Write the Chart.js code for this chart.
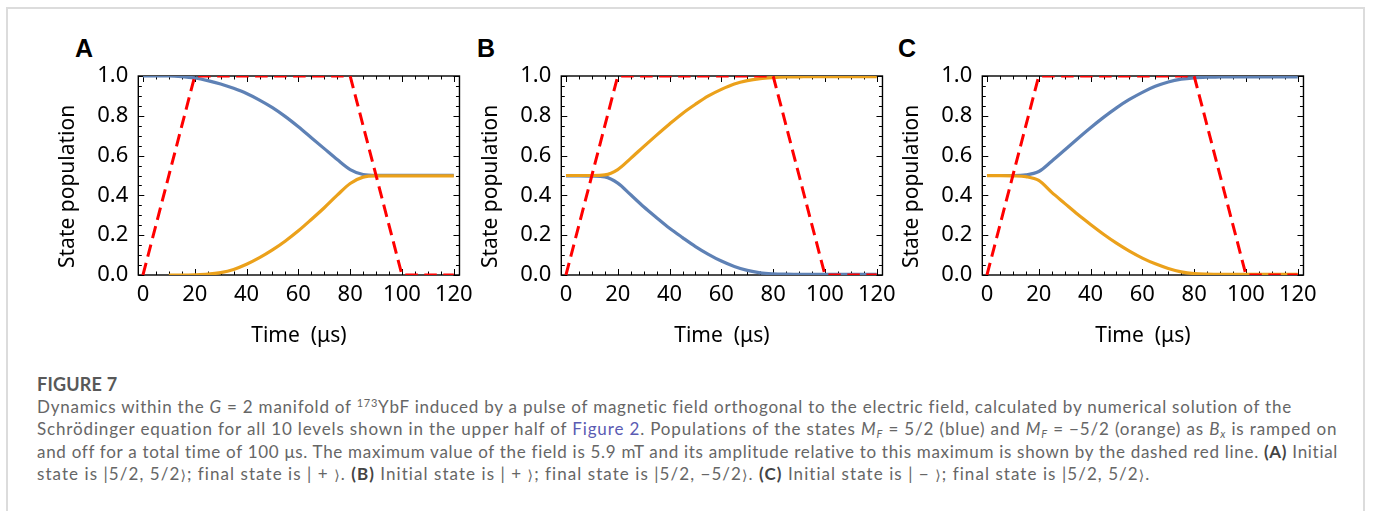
<!DOCTYPE html>
<html>
<head>
<meta charset="utf-8">
<script src="https://cdn.jsdelivr.net/npm/chart.js@4.4.1/dist/chart.umd.min.js"></script>
<style>
  html, body { margin: 0; padding: 0; background: #fff; }
  body { width: 1373px; height: 511px; position: relative; overflow: hidden; }
  #box { position: absolute; left: 6px; top: 7px; width: 1359px; height: 520px; border: 2px solid #dcdcdc; box-sizing: border-box; }
  .plabel { position: absolute; top: 36px; font: bold 25px "Liberation Sans", Arial, sans-serif; line-height: 25px; color: #000; }
  .panel { position: absolute; top: 0; width: 440px; height: 360px; }
  #caption { position: absolute; left: 37px; top: 373px; font-family: Lato, "Open Sans", sans-serif; font-size: 17px; color: #666; line-height: 22.5px; }
  #caption .head { font-weight: bold; color: #585858; font-size: 18px; letter-spacing: 0.2px; }
  #caption .ln { white-space: nowrap; display: inline-block; }
  #caption b { color: #444; }
  #caption sup, #caption sub { font-size: 11px; line-height: 0; }
  #caption sup { vertical-align: 6px; }
  #caption sub { vertical-align: -3px; }
  .lnk { color: #5b5bb3; }
  .ket { font-family: "DejaVu Sans", sans-serif; font-size: 14px; }
</style>
</head>
<body>
<div id="box"></div>
<div class="plabel" style="left:75px">A</div>
<div class="plabel" style="left:477px">B</div>
<div class="plabel" style="left:898px">C</div>
<div class="panel" style="left:40px"><canvas id="chartA" width="440" height="360"></canvas></div>
<div class="panel" style="left:463.4px"><canvas id="chartB" width="440" height="360"></canvas></div>
<div class="panel" style="left:884px"><canvas id="chartC" width="440" height="360"></canvas></div>

<div id="caption">
  <div class="head">FIGURE 7</div>
  <div><span class="ln" data-w="1255">Dynamics within the <i>G</i> = 2 manifold of <sup>173</sup>YbF induced by a pulse of magnetic field orthogonal to the electric field, calculated by numerical solution of the</span></div>
  <div><span class="ln" data-w="1301">Schrödinger equation for all 10 levels shown in the upper half of <span class="lnk">Figure 2</span>. Populations of the states <i>M<sub>F</sub></i> = 5/2 (blue) and <i>M<sub>F</sub></i> = −5/2 (orange) as <i>B<sub>x</sub></i> is ramped on</span></div>
  <div><span class="ln" data-w="1301">and off for a total time of 100 μs. The maximum value of the field is 5.9 mT and its amplitude relative to this maximum is shown by the dashed red line. <b>(A)</b> Initial</span></div>
  <div><span class="ln" data-w="1113">state is |5/2, 5/2<span class="ket">⟩</span>; final state is | + <span class="ket">⟩</span>. <b>(B)</b> Initial state is | + <span class="ket">⟩</span>; final state is |5/2, −5/2<span class="ket">⟩</span>. <b>(C)</b> Initial state is | − <span class="ket">⟩</span>; final state is |5/2, 5/2<span class="ket">⟩</span>.</span></div>
</div>

<script>
// time grid (µs) for the populations
const times = [0, 5, 10, 15, 20, 25, 30, 35, 40, 45, 50, 55, 60, 65, 70, 75, 80, 85, 90, 95, 100, 105, 110, 115, 120];

// panel A
const blueA   = [1.0, 1.0, 1.0, 0.997, 0.99, 0.977, 0.96, 0.938, 0.912, 0.879, 0.841, 0.796, 0.745, 0.69, 0.635, 0.58, 0.53, 0.505, 0.501, 0.501, 0.501, 0.501, 0.501, 0.501, 0.501];
const orangeA = [null, null, 0.0, 0.0, 0.001, 0.004, 0.012, 0.028, 0.054, 0.087, 0.126, 0.171, 0.222, 0.279, 0.338, 0.401, 0.46, 0.492, 0.498, 0.498, 0.498, 0.498, 0.498, 0.498, 0.498];

// panel B
const blueB   = [0.498, 0.498, 0.497, 0.493, 0.462, 0.403, 0.343, 0.288, 0.235, 0.188, 0.143, 0.104, 0.07, 0.043, 0.023, 0.011, 0.006, 0.004, 0.003, 0.003, 0.003, 0.003, 0.003, 0.003, 0.003];
const orangeB = [0.5, 0.5, 0.5, 0.503, 0.53, 0.586, 0.645, 0.703, 0.759, 0.812, 0.858, 0.9, 0.933, 0.96, 0.977, 0.987, 0.992, 0.995, 0.996, 0.997, 0.997, 0.997, 0.997, 0.997, 0.997];

// panel C
const blueC   = [0.5, 0.5, 0.5, 0.503, 0.52, 0.572, 0.628, 0.685, 0.74, 0.792, 0.84, 0.882, 0.918, 0.948, 0.97, 0.984, 0.991, 0.994, 0.995, 0.996, 0.996, 0.996, 0.996, 0.996, 0.996];
const orangeC = [0.499, 0.499, 0.498, 0.494, 0.475, 0.415, 0.36, 0.305, 0.254, 0.205, 0.16, 0.12, 0.085, 0.056, 0.033, 0.016, 0.007, 0.004, 0.003, 0.003, 0.003, 0.003, 0.003, 0.003, 0.003];

// field amplitude relative to max (dashed red)
const fieldT = [0, 20, 80, 100, 120];
const fieldV = [0, 1, 1, 0, 0];

const xTicks = [0, 20, 40, 60, 80, 100, 120];
const yTicks = [0, 0.2, 0.4, 0.6, 0.8, 1.0];

const BLUE = '#5e81b5';
const ORANGE = '#eba11b';
const FONT = "'Noto Sans', 'DejaVu Sans', sans-serif";

function pts(xs, ys) {
  return xs.map((x, i) => ({ x: x, y: ys[i] })).filter(p => p.y !== null);
}

// Mathematica-like frame with inward ticks on all four sides
const frameTicks = {
  id: 'frameTicks',
  beforeDatasetsDraw(chart) {
    const { ctx, chartArea: a, scales: { x, y } } = chart;
    ctx.save();
    ctx.strokeStyle = '#000';
    ctx.lineWidth = 1;
    ctx.beginPath();
    for (let v = 0; v <= 120; v += 5) {
      const px = Math.round(x.getPixelForValue(v)) + 0.5;
      const len = v % 20 === 0 ? 6 : 3.5;
      ctx.moveTo(px, a.bottom); ctx.lineTo(px, a.bottom - len);
      ctx.moveTo(px, a.top); ctx.lineTo(px, a.top + len);
    }
    for (let k = 0; k <= 20; k++) {
      const py = Math.round(y.getPixelForValue(k * 0.05)) + 0.5;
      const len = k % 4 === 0 ? 6 : 3.5;
      ctx.moveTo(a.left, py); ctx.lineTo(a.left + len, py);
      ctx.moveTo(a.right, py); ctx.lineTo(a.right - len, py);
    }
    ctx.stroke();
    ctx.lineWidth = 1.4;
    ctx.strokeRect(a.left, a.top, a.right - a.left, a.bottom - a.top);
    ctx.restore();
  }
};

function makePanel(id, blue, orange) {
  return new Chart(document.getElementById(id), {
    type: 'line',
    data: {
      datasets: [
        {
          data: pts(fieldT, fieldV),
          borderColor: '#ff0000',
          borderWidth: 3,
          borderDash: [12.5, 6.5],
          tension: 0,
          pointRadius: 0
        },
        {
          data: pts(times, orange),
          borderColor: ORANGE,
          borderWidth: 3.2,
          cubicInterpolationMode: 'monotone',
          pointRadius: 0
        },
        {
          data: pts(times, blue),
          borderColor: BLUE,
          borderWidth: 3.2,
          cubicInterpolationMode: 'monotone',
          pointRadius: 0
        }
      ]
    },
    options: {
      responsive: false,
      animation: false,
      devicePixelRatio: 1,
      layout: { padding: { top: 76, right: 19.3, left: 0, bottom: 0 } },
      plugins: { legend: { display: false }, tooltip: { enabled: false } },
      scales: {
        x: {
          type: 'linear',
          min: -1.8,
          max: 122.2,
          afterBuildTicks: s => { s.ticks = xTicks.map(v => ({ value: v })); },
          afterFit: s => { s.height = 85; },
          grid: { display: false, drawTicks: false },
          border: { display: false },
          ticks: { color: '#000', padding: 7, maxRotation: 0, font: { family: FONT, size: 22 } },
          title: { display: true, text: 'Time  (μs)', color: '#000', padding: { top: 0, bottom: 11.5 }, font: { family: FONT, size: 21 } }
        },
        y: {
          min: 0,
          max: 1,
          afterBuildTicks: s => { s.ticks = yTicks.map(v => ({ value: v })); },
          afterFit: s => { s.width = 98.3; },
          grid: { display: false, drawTicks: false },
          border: { display: false },
          ticks: { color: '#000', padding: 10, callback: v => v.toFixed(1), font: { family: FONT, size: 22 } },
          // trailing spaces push the rotated label down to sit where the original does
          title: { display: true, text: 'State population    ', color: '#000', padding: { top: 15, bottom: 0 }, font: { family: FONT, size: 21 } }
        }
      }
    },
    plugins: [frameTicks]
  });
}

makePanel('chartA', blueA, orangeA);
makePanel('chartB', blueB, orangeB);
makePanel('chartC', blueC, orangeC);

// stretch each caption line to the width it has in the printed figure
document.querySelectorAll('#caption .ln').forEach(el => {
  const target = parseFloat(el.dataset.w);
  const w = el.getBoundingClientRect().width;
  const n = el.textContent.length;
  el.style.letterSpacing = ((target - w) / n).toFixed(3) + 'px';
});
</script>
</body>
</html>
